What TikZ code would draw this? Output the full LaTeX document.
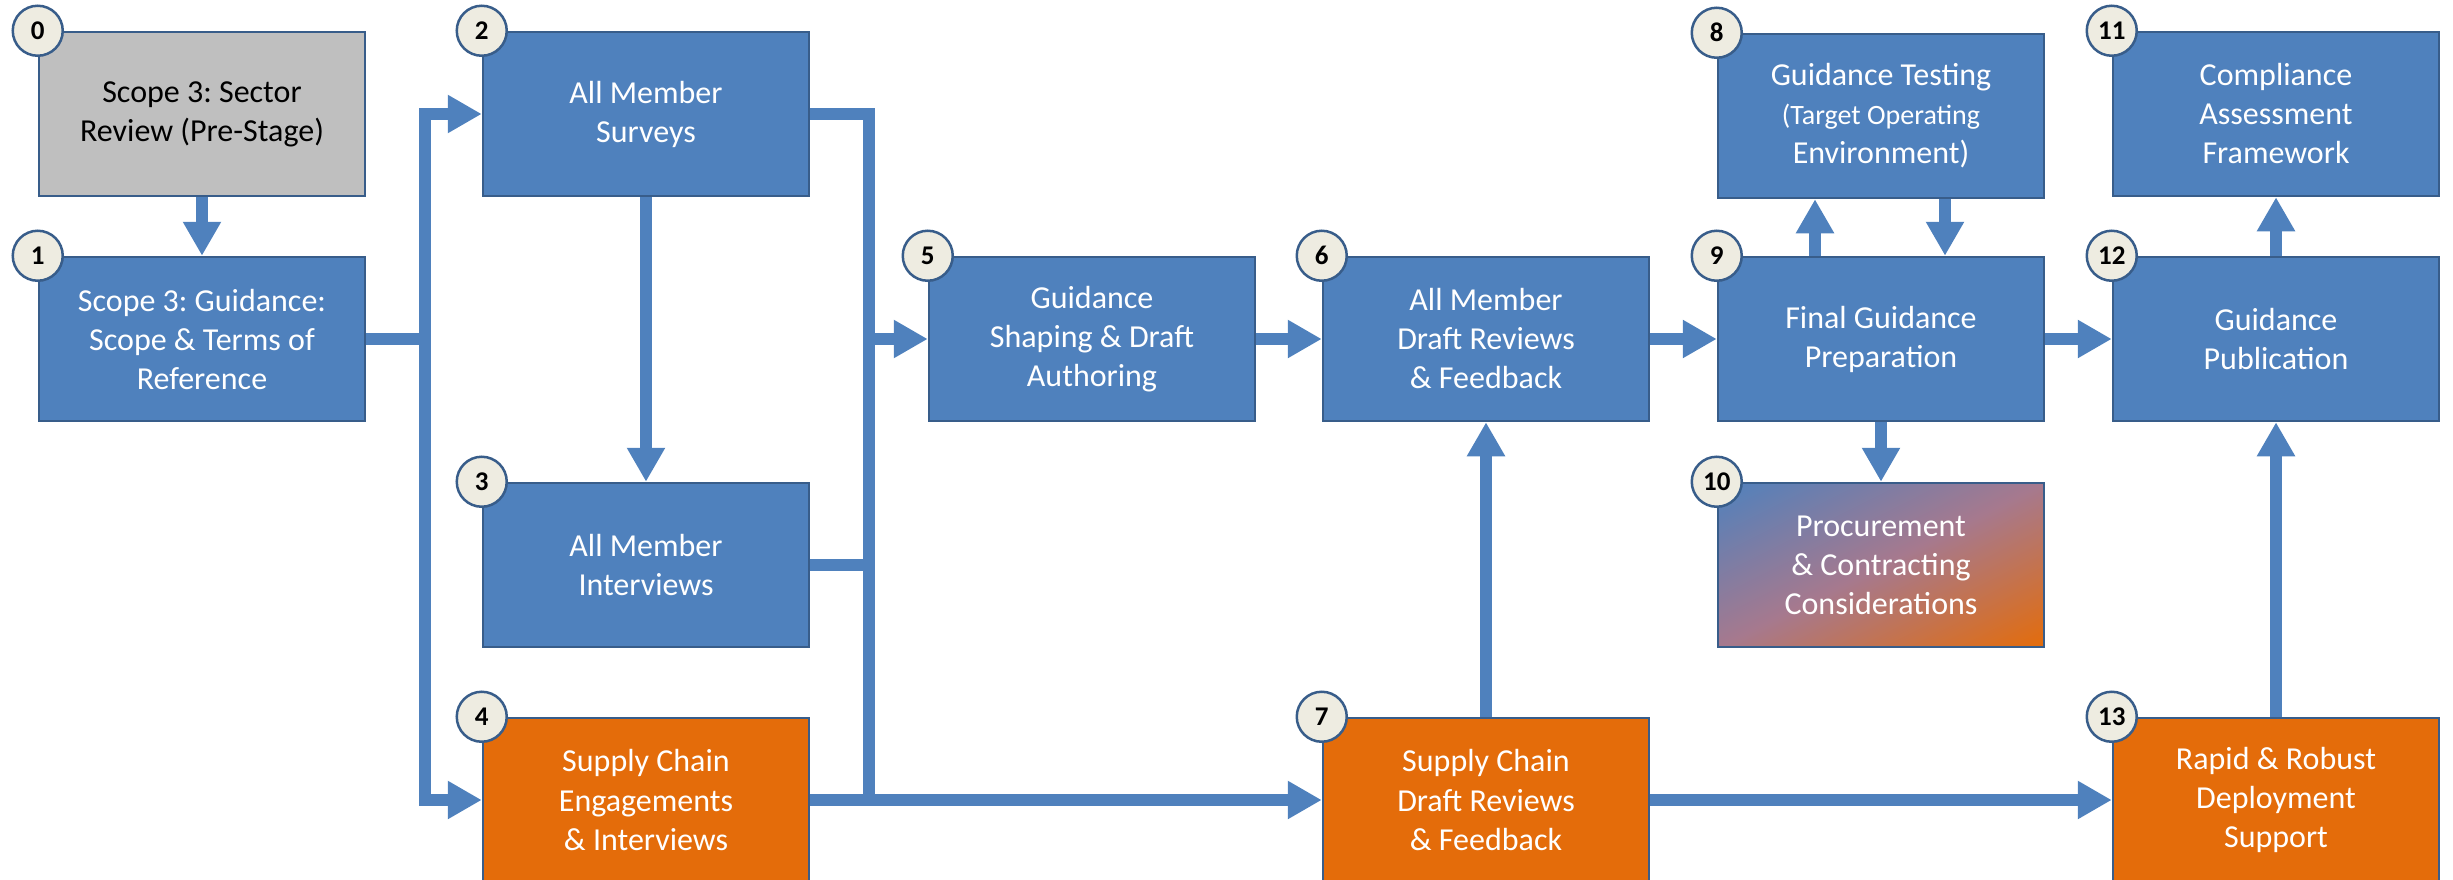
\documentclass[tikz,border=0pt]{standalone}
\usepackage{fontspec}
\setmainfont{Carlito}
\usetikzlibrary{arrows.meta,calc}
\definecolor{boxblue}{HTML}{4F81BD}
\definecolor{boxorange}{HTML}{E46C0A}
\definecolor{boxgray}{HTML}{BFBFBF}
\definecolor{edgeblue}{HTML}{385D8A}
\definecolor{badgefill}{HTML}{EEECE1}
\definecolor{mixmid}{HTML}{A6798E}
\frenchspacing
\begin{document}
\begin{tikzpicture}[x=1pt,y=-1pt,
  stage/.style={rectangle, draw=edgeblue, line width=2.5pt, minimum width=326pt, minimum height=164pt, inner sep=0pt, align=center, text=white, font=\frenchspacing\fontsize{32}{39}\selectfont},
  bluebox/.style={stage, fill=boxblue},
  orangebox/.style={stage, fill=boxorange},
  graybox/.style={stage, fill=boxgray, text=black},
  mixbox/.style={stage, path picture={
      \shade[transform canvas={rotate around={26.7:(path picture bounding box.center)}},
             top color=boxblue, bottom color=boxorange, middle color=mixmid]
        ($(path picture bounding box.center)+(-210,-147)$) rectangle ($(path picture bounding box.center)+(210,147)$);}},
  badge/.style={circle, draw=edgeblue, line width=2.5pt, fill=badgefill, minimum size=50pt, inner sep=0pt, text=black, font=\bfseries\fontsize{27}{27}\selectfont},
  conn/.style={draw=boxblue, line width=12pt, line join=miter},
  arr/.style={conn, -{Triangle[width=36pt,length=34pt]}},
]
\useasboundingbox (0,0) rectangle (2453,880);

% boxes
\node[graybox]   (b0)  at (202,114) {Scope 3: Sector\\Review (Pre-Stage)};
\node[bluebox]   (b1)  at (202,339) {Scope 3: Guidance:\\Scope \& Terms of\\Reference};
\node[bluebox]   (b2)  at (646,114) {All Member\\Surveys};
\node[bluebox]   (b3)  at (646,565) {All Member\\Interviews};
\node[orangebox] (b4)  at (646,800) {Supply Chain\\Engagements\\\& Interviews};
\node[bluebox]   (b5)  at (1092,339) {Guidance\\Shaping \& Draft\\Authoring};
\node[bluebox]   (b6)  at (1486,339) {All Member\\Draft Reviews\\\& Feedback};
\node[orangebox] (b7)  at (1486,800) {Supply Chain\\Draft Reviews\\\& Feedback};
\node[bluebox]   (b8)  at (1881,116) {Guidance Testing\\\fontsize{28}{34}\selectfont(Target Operating\\Environment)};
\node[bluebox]   (b9)  at (1881,339) {Final Guidance\\Preparation};
\node[mixbox]    (b10) at (1881,565) {Procurement\\\& Contracting\\Considerations};
\node[bluebox]   (b11) at (2276,114) {Compliance\\Assessment\\Framework};
\node[bluebox]   (b12) at (2276,339) {Guidance\\Publication};
\node[orangebox] (b13) at (2276,800) {Rapid \& Robust\\Deployment\\Support};

% bus junctions
\coordinate (jl) at (425,339);
\coordinate (jr) at (869,800);

% connectors
\draw[arr] (b0.south) -- (b1.north);
\draw[conn] (b1.east) -- (jl);
\draw[arr] (jl) |- (b2.west);
\draw[arr] (jl) |- (b4.west);
\draw[arr] (b2.south) -- (b3.north);
\draw[conn] (b2.east) -| (jr);
\draw[conn] (b3.east) -- (b3.east -| jr);
\draw[arr] (b5.west -| jr) -- (b5.west);
\draw[arr] (b4.east) -- (b7.west);
\draw[arr] (b5.east) -- (b6.west);
\draw[arr] (b7.north) -- (b6.south);
\draw[arr] (b6.east) -- (b9.west);
\draw[arr] ([xshift=-66pt]b9.north) -- ([xshift=-66pt]b8.south);
\draw[arr] ([xshift=64pt]b8.south) -- ([xshift=64pt]b9.north);
\draw[arr] (b9.south) -- (b10.north);
\draw[arr] (b9.east) -- (b12.west);
\draw[arr] (b7.east) -- (b13.west);
\draw[arr] (b13.north) -- (b12.south);
\draw[arr] (b12.north) -- (b11.south);

% badges
\node[badge] (n0)  at (b0.north west)  {0};
\node[badge] (n1)  at (b1.north west)  {1};
\node[badge] (n2)  at (b2.north west)  {2};
\node[badge] (n3)  at (b3.north west)  {3};
\node[badge] (n4)  at (b4.north west)  {4};
\node[badge] (n5)  at (b5.north west)  {5};
\node[badge] (n6)  at (b6.north west)  {6};
\node[badge] (n7)  at (b7.north west)  {7};
\node[badge] (n8)  at (b8.north west)  {8};
\node[badge] (n9)  at (b9.north west)  {9};
\node[badge] (n10) at (b10.north west) {10};
\node[badge] (n11) at (b11.north west) {11};
\node[badge] (n12) at (b12.north west) {12};
\node[badge] (n13) at (b13.north west) {13};
\end{tikzpicture}
\end{document}
